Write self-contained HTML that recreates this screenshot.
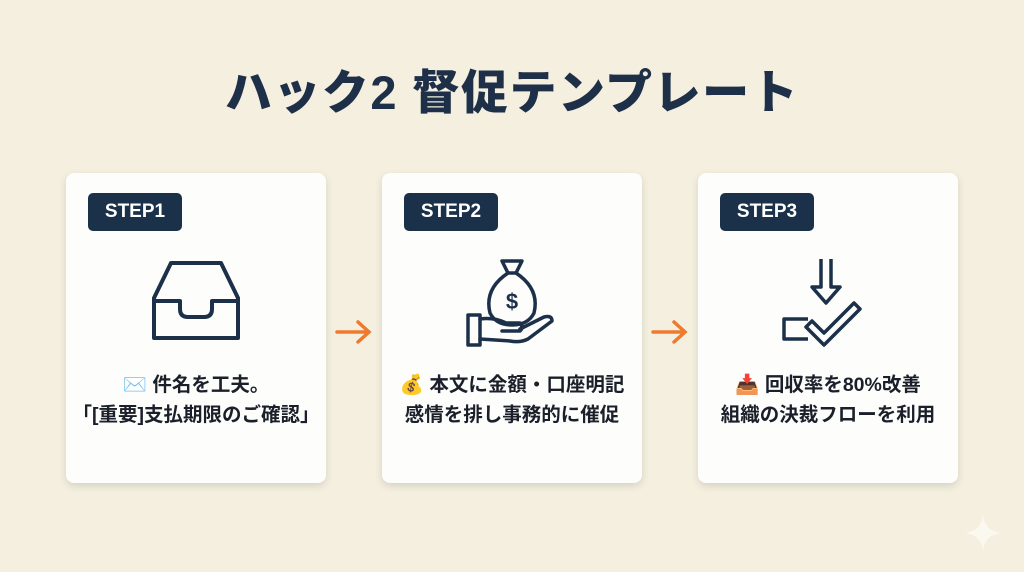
<!DOCTYPE html>
<html><head><meta charset="utf-8"><style>
body{margin:0;width:1024px;height:572px;background:#f4efdf;font-family:"Liberation Sans","Noto Sans CJK JP",sans-serif;position:relative;overflow:hidden;color:#1d2b3f}
.title{position:absolute;top:54px;left:0;width:1024px;text-align:center;font-size:47px;font-weight:900;color:#1e2f48;letter-spacing:1.5px}
.card{position:absolute;top:173px;width:260px;height:310px;background:#fdfdfc;border-radius:8px;box-shadow:0 3px 8px rgba(0,0,0,.12)}
.badge{position:absolute;left:22px;top:20px;width:94px;height:38px;background:#1b3049;border-radius:5px;color:#fff;font-weight:bold;font-size:19px;line-height:38px;text-align:center}
.txt{position:absolute;left:-10px;width:280px;top:197px;text-align:center;font-size:19.5px;font-weight:bold;line-height:30px;color:#1a1f2a}
.icon{position:absolute;left:80px;top:80px}
.arrow{position:absolute;top:318px}
</style></head><body>
<div class="title">ハック2 督促テンプレート</div>

<div class="card" style="left:66px">
<div class="badge">STEP1</div>
<svg class="icon" width="100" height="100" viewBox="0 0 100 100"><g fill="none" stroke="#1d3049" stroke-width="4" stroke-linejoin="round"><path d="M25 10 H75 L92 45 V85 H8 V45 Z"/><path d="M8 48 H34 V56 Q34 64 42 64 H58 Q66 64 66 56 V48 H92"/></g></svg>
<div class="txt">✉️ 件名を工夫。<br>「[重要]支払期限のご確認」</div>
</div>

<svg class="arrow" style="left:334px" width="40" height="28"><g fill="none" stroke="#ee7a2e" stroke-width="3.5" stroke-linecap="round"><path d="M3 14 H34 M24 4 L35 14 L24 24"/></g></svg>

<div class="card" style="left:382px">
<div class="badge">STEP2</div>
<svg class="icon" width="100" height="100" viewBox="0 0 100 100"><g fill="none" stroke="#1d3049" stroke-width="3.5" stroke-linejoin="round" stroke-linecap="round"><path d="M40 8 H60 L54 20 H46 Z"/><path d="M46 20 Q22 36 28 60 Q34 72 50 72 Q66 72 72 60 Q78 36 54 20"/><path d="M6 62 H18 V92 H6 Z"/><path d="M18 66 Q32 64 44 70 H58 Q62 74 58 78 H40 M58 76 L82 64 Q90 62 90 68 L66 86 Q58 90 48 88 L18 86"/></g><text x="50" y="56" font-size="22" font-weight="bold" text-anchor="middle" fill="#1d3049" font-family="Liberation Sans">$</text></svg>
<div class="txt">💰 本文に金額・口座明記<br>感情を排し事務的に催促</div>
</div>

<svg class="arrow" style="left:650px" width="40" height="28"><g fill="none" stroke="#ee7a2e" stroke-width="3.5" stroke-linecap="round"><path d="M3 14 H34 M24 4 L35 14 L24 24"/></g></svg>

<div class="card" style="left:698px">
<div class="badge">STEP3</div>
<svg class="icon" width="100" height="100" viewBox="0 0 100 100"><g fill="none" stroke="#1d3049" stroke-width="3.5" stroke-linejoin="round"><path d="M43 6 V34 H34 L48 50 L62 34 H53 V6"/><path d="M30 66 H6 V86 H30"/><path d="M34 68 L46 80 L76 50 L82 56 L46 92 L28 74 Z"/></g></svg>
<div class="txt">📥 回収率を80%改善<br>組織の決裁フローを利用</div>
</div>

<svg style="position:absolute;left:965px;top:515px" width="36" height="36" viewBox="0 0 36 36"><path d="M18 0 Q20 16 36 18 Q20 20 18 36 Q16 20 0 18 Q16 16 18 0Z" fill="#fbf8f0"/></svg>
</body></html>
